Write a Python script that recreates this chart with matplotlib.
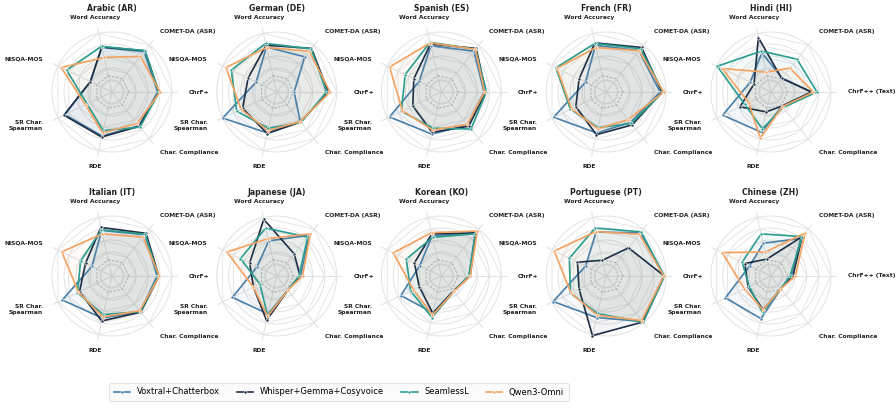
import numpy as np
import matplotlib
matplotlib.use("Agg")
import matplotlib.pyplot as plt
from matplotlib.lines import Line2D

# axes, clockwise from the top
metrics = ['Word Accuracy', 'COMET-DA (ASR)', 'ChrF+', 'Char. Compliance',
           'RDE', 'SR Char.\nSpearman', 'NISQA-MOS']
metrics_text = ['Word Accuracy', 'COMET-DA (ASR)', 'ChrF++ (Text)', 'Char. Compliance',
                'RDE', 'SR Char.\nSpearman', 'NISQA-MOS']

languages = ['Arabic (AR)', 'German (DE)', 'Spanish (ES)', 'French (FR)', 'Hindi (HI)',
             'Italian (IT)', 'Japanese (JA)', 'Korean (KO)', 'Portuguese (PT)', 'Chinese (ZH)']
text_chrf = ['Hindi (HI)', 'Chinese (ZH)']

systems = ['Voxtral+Chatterbox', 'Whisper+Gemma+Cosyvoice', 'SeamlessL', 'Qwen3-Omni']
colors = ['#4a7fa8', '#1f2f45', '#2a9d8f', '#f4a261']

# normalised scores, one row per language
voxtral = [
    [.76, .86, .76, .72, .75, .87, .40],
    [.77, .75, .29, .63, .70, 1.0, .38],
    [.79, .87, .71, .70, .72, .96, .41],
    [.80, .88, .90, .65, .70, .97, .38],
    [.67, .30, .68, .30, .69, .89, .38],
    [.78, .88, .75, .76, .72, .92, .37],
    [.60, .87, .40, .30, .65, .82, .36],
    [.69, .91, .46, .32, .63, .75, .40],
    [.75, .92, .96, .97, .71, .98, .38],
    [.56, .80, .34, .27, .73, .84, .39],
]
whisper = [
    [.77, .88, .78, .73, .77, .89, .40],
    [.80, .93, .86, .64, .71, .63, .53],
    [.82, .93, .74, .73, .69, .53, .51],
    [.84, .95, .93, .70, .73, .56, .50],
    [.93, .29, .68, .30, .34, .57, .31],
    [.83, .91, .78, .77, .77, .60, .49],
    [.97, .47, .39, .30, .76, .43, .50],
    [.72, .92, .48, .32, .64, .41, .50],
    [.27, .60, .97, .98, 1.02, .50, .53],
    [.29, .84, .37, .27, .58, .42, .48],
]
seamless = [
    [.78, .88, .78, .75, .66, .46, .84],
    [.83, .92, .83, .65, .62, .74, .84],
    [.85, .91, .75, .79, .62, .74, .67],
    [.83, .92, .95, .67, .61, .66, .93],
    [.70, .70, .77, .33, .63, .48, .99],
    [.79, .89, .77, .76, .66, .64, .58],
    [.82, .83, .37, .30, .68, .31, .67],
    [.66, .90, .46, .33, .71, .57, .65],
    [.82, .94, .97, .99, .64, .66, .68],
    [.72, .84, .32, .27, .62, .40, .53],
]
qwen = [
    [.59, .76, .80, .67, .70, .49, .94],
    [.76, .87, .89, .63, .66, .66, .94],
    [.84, .91, .72, .69, .65, .72, .96],
    [.76, .88, .96, .59, .63, .64, .91],
    [.34, .51, .71, .31, .79, .41, .90],
    [.72, .83, .79, .74, .70, .62, .93],
    [.64, .90, .43, .30, .69, .43, .92],
    [.74, .96, .48, .33, .67, .52, .89],
    [.76, .89, .96, .95, .67, .65, .96],
    [.41, .92, .41, .27, .58, .49, .90],
]
scores = [voxtral, whisper, seamless, qwen]

n = len(metrics)
angles = np.deg2rad(180 / n * 4) - np.arange(n) * 2 * np.pi / n
closed = np.append(angles, angles[0])
rings = [0.2, 0.4, 0.6, 0.8, 1.0]

fig = plt.figure(figsize=(8.96, 4.08), dpi=100)
W, H = 896, 408
rad = 66

for k, lang in enumerate(languages):
    row, col = divmod(k, 5)
    cx = 112 + 164.7 * col
    cy = 92 + 184 * row
    ax = fig.add_axes([(cx - rad) / W, (H - cy - rad) / H, 2 * rad / W, 2 * rad / H],
                      projection='polar')
    ax.set_ylim(0, 1.1)
    ax.set_xticks([])
    ax.set_yticks([])
    ax.spines['polar'].set_visible(False)
    ax.grid(False)

    th = np.linspace(0, 2 * np.pi, 200)
    for r in rings:
        ax.plot(th, np.full_like(th, r), color='#e2e2e2', lw=0.7, zorder=0)
        ax.plot(closed, np.full_like(closed, r), color='#e2e2e2', lw=0.6, zorder=0)
    for a in angles:
        ax.plot([a, a], [0, 1.1], color='#e2e2e2', lw=0.8, zorder=0)
    ax.plot(closed, np.full_like(closed, 0.28), color='#bdbdbd', lw=0.8,
            ls=(0, (2, 1.5)), zorder=1)

    for s in range(len(systems)):
        vals = np.array(scores[s][k])
        vals = np.append(vals, vals[0])
        ax.fill(closed, vals, color=colors[s], alpha=0.05, zorder=2)
        ax.plot(closed, vals, color=colors[s], lw=1.2, marker='o', ms=2.2,
                mec='white', mew=0.4, zorder=3 + s)

    labels = metrics_text if lang in text_chrf else metrics
    for a, lab in zip(angles, labels):
        c = np.cos(a)
        ha = 'left' if c > 0.3 else ('right' if c < -0.3 else 'center')
        ax.text(a, 1.28, lab, ha=ha, va='center', fontsize=4.3, fontweight='bold',
                color='#222222', linespacing=1.1, clip_on=False)

    ax.text(0.5, 1.13, lang, transform=ax.transAxes, ha='center', va='center',
            fontsize=5.6, fontweight='bold', color='#222222')

handles = [Line2D([0], [0], color=c, lw=1.2, marker='o', ms=2.2, mec='white', mew=0.4)
           for c in colors]
leg = fig.legend(handles, systems, loc='center', bbox_to_anchor=(339 / W, 1 - 392 / H),
                 ncol=4, fontsize=6.0, frameon=True, handlelength=2.0, columnspacing=2.0,
                 borderpad=0.55, handletextpad=0.8)
leg.get_frame().set_edgecolor('#dddddd')
leg.get_frame().set_facecolor('#fafafa')
leg.get_frame().set_linewidth(0.8)

fig.savefig('out.png', dpi=100)
